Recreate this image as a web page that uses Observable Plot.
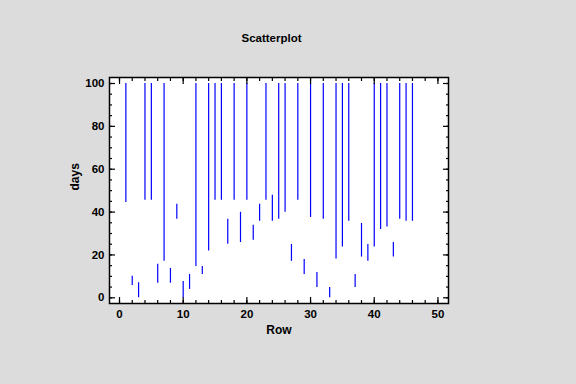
<!DOCTYPE html>
<html>
<head>
<meta charset="utf-8">
<script src="https://cdn.jsdelivr.net/npm/d3@7"></script>
<script src="https://cdn.jsdelivr.net/npm/@observablehq/plot@0.6"></script>
<style>
  html, body { margin: 0; padding: 0; background: #dcdcdc; }
  #chart svg { display: block; }
</style>
</head>
<body>
<div id="chart"></div>
<script>
const rows = d3.range(1, 47);
const low  = [44.5, 5.7, 0, 45.5, 45.5, 6.8, 17.1, 6.8, 36.6, 0,
              3.9, 14.6, 10.9, 21.8, 45.5, 45.5, 25, 45.5, 25.8, 45.5,
              26.8, 35.7, 45.5, 35.7, 36.6, 39.9, 17, 45.5, 10.9, 37.5,
              4.8, 36.6, 0, 18.1, 23.7, 35.7, 4.8, 19, 17, 23.7,
              31.9, 33, 19, 36.6, 35.7, 35.7];
const high = [100, 10, 7, 100, 100, 15.6, 100, 13.7, 43.6, 7.6,
              10.9, 100, 14.6, 100, 100, 100, 36.6, 100, 39.9, 100,
              33.8, 43.6, 100, 47.8, 100, 100, 24.9, 100, 17.9, 100,
              11.8, 100, 4.8, 100, 100, 100, 10.9, 34.7, 24.9, 100,
              100, 100, 25.8, 100, 100, 100];
const xMajor = [0, 10, 20, 30, 40, 50];
const xMinor = d3.range(0, 52, 2);
const yMajor = [0, 20, 40, 60, 80, 100];
const yMinor = d3.range(0, 101, 5);

const data = rows.map((r, i) => ({row: r, low: low[i], high: high[i]}));
const font = "'Liberation Sans', Arial, sans-serif";

const tickOpts = (ticks, size, extra) => ({ticks, tickSize: size, tickFormat: () => "", label: null, strokeWidth: 1.2, ...extra});

const chart = Plot.plot({
  width: 576,
  height: 384,
  marginLeft: 109,
  marginRight: 128,
  marginTop: 77,
  marginBottom: 81,
  style: {background: "#dcdcdc", fontFamily: font, fontSize: "11.5px", fontWeight: "bold", color: "#000", overflow: "visible"},
  x: {domain: [-1.57, 51.66]},
  y: {domain: [-2.66, 102.8]},
  marks: [
    Plot.frame({fill: "white", stroke: "none"}),
    Plot.ruleX(data, {x: "row", y1: "low", y2: "high", stroke: "#0000ff", strokeWidth: 1.2}),
    // inward ticks
    Plot.axisX(tickOpts(xMinor, 3, {anchor: "bottom", insetBottom: 3})),
    Plot.axisX(tickOpts(xMajor, 6, {anchor: "bottom", insetBottom: 6})),
    Plot.axisX(tickOpts(xMinor, 3, {anchor: "top", insetTop: 3})),
    Plot.axisX(tickOpts(xMajor, 6, {anchor: "top", insetTop: 6})),
    Plot.axisY(tickOpts(yMinor, 3, {anchor: "left", insetLeft: 3})),
    Plot.axisY(tickOpts(yMajor, 6, {anchor: "left", insetLeft: 6})),
    Plot.axisY(tickOpts(yMinor, 3, {anchor: "right", insetRight: 3})),
    Plot.axisY(tickOpts(yMajor, 6, {anchor: "right", insetRight: 6})),
    // tick labels
    Plot.axisX({anchor: "bottom", ticks: xMajor, tickSize: 0, tickPadding: 6, label: null, fill: "#000"}),
    Plot.axisY({anchor: "left", ticks: yMajor, tickSize: 0, tickPadding: 5, label: null, fill: "#000"}),
    Plot.frame({stroke: "#000", strokeWidth: 1.5}),
    // titles
    Plot.text(["Row"], {frameAnchor: "bottom", lineAnchor: "middle", dy: 27, text: d => d, fontSize: 12, fontWeight: "bold", fill: "#000"}),
    Plot.text(["days"], {frameAnchor: "left", dx: -34, rotate: -90, text: d => d, fontSize: 12, fontWeight: "bold", fill: "#000"}),
    Plot.text(["Scatterplot"], {frameAnchor: "top", lineAnchor: "middle", dy: -39, dx: -7.5, text: d => d, fontSize: 11.5, fontWeight: "bold", fill: "#000"})
  ]
});
document.getElementById("chart").appendChild(chart);
</script>
</body>
</html>
